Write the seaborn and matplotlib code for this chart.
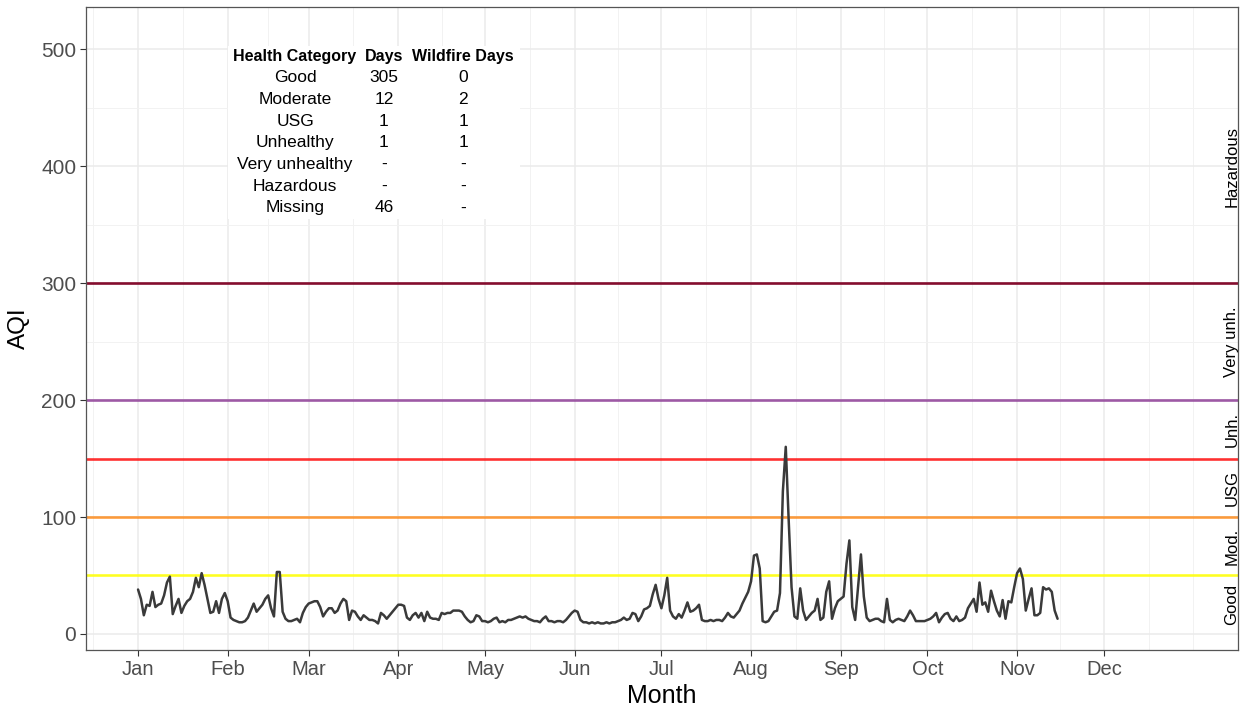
import numpy as np
import pandas as pd
import matplotlib
matplotlib.use("Agg")
import matplotlib.pyplot as plt
import matplotlib.dates as mdates
from matplotlib.patches import Rectangle
import seaborn as sns

# ---- daily AQI, 1 Jan - 15 Nov 2021 ----
aqi_jan = [38, 30, 16, 25, 24, 36, 23, 25, 26, 33, 44, 49, 17, 24, 30, 18, 24, 28, 30, 36,
           48, 40, 52, 42, 30, 18, 19, 28, 18, 30, 35]
aqi_feb = [28, 14, 12, 11, 10, 10, 11, 14, 20, 26, 19, 22, 25, 30, 33, 22, 15, 53, 53, 19,
           13, 11, 11, 12, 13, 10, 18, 23]
aqi_mar = [26, 27, 28, 28, 23, 15, 19, 22, 22, 18, 20, 26, 30, 28, 12, 20, 19, 15, 12, 16,
           14, 12, 12, 11, 9, 18, 16, 13, 16, 19, 22]
aqi_apr = [25, 25, 24, 14, 12, 16, 18, 14, 18, 11, 19, 14, 13, 13, 12, 18, 17, 18, 18, 20,
           20, 20, 19, 15, 12, 10, 11, 16, 15, 11]
aqi_may = [11, 10, 11, 13, 14, 10, 11, 10, 12, 12, 13, 14, 15, 14, 15, 13, 12, 11, 11, 10,
           13, 15, 11, 11, 10, 11, 11, 10, 12, 15, 18]
aqi_jun = [20, 19, 12, 10, 10, 9, 10, 9, 10, 9, 9, 10, 9, 10, 10, 11, 12, 14, 12, 13,
           18, 17, 11, 15, 21, 22, 24, 34, 42, 30]
aqi_jul = [22, 33, 48, 20, 15, 13, 17, 14, 20, 27, 19, 20, 22, 25, 12, 11, 11, 12, 11, 12,
           12, 11, 14, 18, 15, 14, 17, 20, 26, 31, 36]
aqi_aug = [45, 67, 68, 56, 11, 10, 11, 15, 19, 20, 35, 122, 160, 98, 40, 15, 13, 39, 20, 12,
           15, 18, 20, 30, 12, 14, 36, 45, 13, 22, 28]
aqi_sep = [30, 32, 60, 80, 23, 12, 40, 68, 32, 14, 11, 12, 13, 13, 11, 10, 30, 12, 10, 12,
           13, 12, 11, 15, 20, 16, 11, 11, 11, 11]
aqi_oct = [12, 13, 15, 18, 10, 14, 17, 18, 13, 11, 15, 11, 12, 14, 22, 26, 30, 19, 44, 25,
           27, 19, 37, 28, 20, 15, 29, 13, 28, 27, 40]
aqi_nov = [52, 56, 47, 20, 30, 39, 16, 16, 18, 40, 38, 39, 36, 20, 13]

aqi = (aqi_jan + aqi_feb + aqi_mar + aqi_apr + aqi_may + aqi_jun + aqi_jul
       + aqi_aug + aqi_sep + aqi_oct + aqi_nov)
dates = pd.date_range("2021-01-01", periods=len(aqi), freq="D")
df = pd.DataFrame({"date": dates, "AQI": aqi})

# ---- summary table ----
table_header = ["Health Category", "Days", "Wildfire Days"]
categories = ["Good", "Moderate", "USG", "Unhealthy", "Very unhealthy", "Hazardous", "Missing"]
days_count = ["305", "12", "1", "1", "-", "-", "46"]
wildfire_days = ["0", "2", "1", "1", "-", "-", "-"]

# ---- AQI category breakpoints and band labels ----
thresholds = [50, 100, 150, 200, 300]
threshold_colors = ["#FFFF00", "#FF7E00", "#FF0000", "#8F3F97", "#7E0023"]
threshold_alpha = [0.85, 0.75, 0.8, 0.85, 0.95]
band_labels = ["Good", "Mod.", "USG", "Unh.", "Very unh.", "Hazardous"]
band_mid = [25, 75, 125, 175, 250, 400]

month_labels = ["Jan", "Feb", "Mar", "Apr", "May", "Jun",
                "Jul", "Aug", "Sep", "Oct", "Nov", "Dec"]

sns.set_theme(style="whitegrid")
plt.rcParams["font.family"] = ["Liberation Sans", "DejaVu Sans"]

W, H = 1243, 706
fig = plt.figure(figsize=(W / 100, H / 100), dpi=100)
ax = fig.add_axes([86 / W, 56 / H, (1238 - 86) / W, (699 - 56) / H])
ax.set_facecolor("white")
ax.set_axisbelow(True)

start = pd.Timestamp("2021-01-01")
month_starts = pd.date_range("2021-01-01", "2021-12-01", freq="MS")
ext = [pd.Timestamp("2020-12-01")] + list(month_starts) + [pd.Timestamp("2022-01-01")]
ext_num = mdates.date2num(ext)
minor_x = list((ext_num[:-1] + ext_num[1:]) / 2) + [ext_num[-1]]

x0 = mdates.date2num(start)
ax.set_xlim(x0 - 18.0, x0 + 380.4)
ax.set_ylim(-13.7, 536)

# grid
for xm in mdates.date2num(month_starts):
    ax.axvline(xm, color="#EBEBEB", lw=1.1, zorder=0.5)
for xm in minor_x:
    ax.axvline(xm, color="#F2F2F2", lw=0.7, zorder=0.5)
for yv in range(0, 501, 100):
    ax.axhline(yv, color="#EBEBEB", lw=1.1, zorder=0.5)
for yv in range(50, 500, 100):
    ax.axhline(yv, color="#F2F2F2", lw=0.7, zorder=0.5)
ax.grid(False)

# threshold lines
for yv, c, a in zip(thresholds, threshold_colors, threshold_alpha):
    ax.axhline(yv, color=c, alpha=a, lw=1.9, zorder=2)

# AQI series
sns.lineplot(data=df, x="date", y="AQI", ax=ax, color="#3A3A3A", lw=1.8, zorder=3)

# axes styling
ax.set_xticks(mdates.date2num(month_starts))
ax.set_xticklabels(month_labels)
ax.set_yticks(range(0, 501, 100))
ax.tick_params(axis="both", which="major", length=4, width=0.8, color="#333333",
               labelsize=14.5, labelcolor="#4D4D4D", pad=3, bottom=True, left=True)
ax.tick_params(axis="y", labelsize=15)
for s in ax.spines.values():
    s.set_color("#555555")
    s.set_linewidth(0.9)
ax.set_xlabel("Month", fontsize=18, color="black", labelpad=4)
ax.set_ylabel("AQI", fontsize=17.5, color="black", labelpad=8)

# band labels on the right
x_lab = x0 + 378.3
for lab, ym in zip(band_labels, band_mid):
    ax.text(x_lab, ym, lab, rotation=90, ha="center", va="center", fontsize=12,
            color="black", zorder=4)

# summary table
def fx(px):
    return px / W

def fy(py):
    return 1 - py / H

ax.add_patch(Rectangle((fx(228), fy(219)), fx(520) - fx(228), fy(46) - fy(219),
                       transform=fig.transFigure, facecolor="white", edgecolor="none",
                       zorder=1))
col_x = [295, 384, 463]
row_y0, row_dy = 56, 21.7
for cx, txt in zip(col_x, table_header):
    fig.text(fx(cx), fy(row_y0), txt, ha="center", va="center", fontsize=11.5,
             fontweight="bold", color="black")
for i, (c, d, w) in enumerate(zip(categories, days_count, wildfire_days)):
    yy = fy(row_y0 + row_dy * (i + 1))
    for cx, txt in zip(col_x, (c, d, w)):
        fig.text(fx(cx), yy, txt, ha="center", va="center", fontsize=12.5, color="black")

fig.savefig("out.png", dpi=100)
